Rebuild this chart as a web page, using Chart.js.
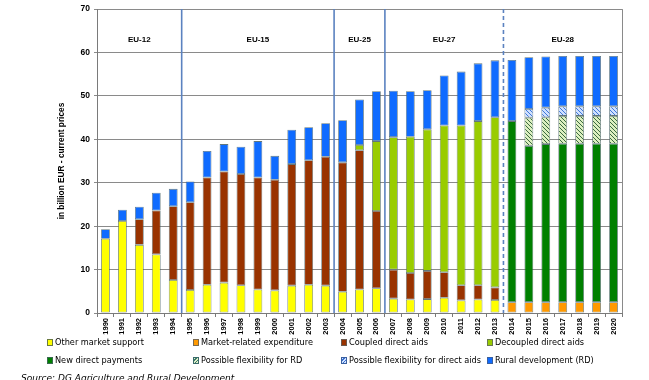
<!DOCTYPE html>
<html><head><meta charset="utf-8">
<script src="https://cdn.jsdelivr.net/npm/chart.js@4.4.1/dist/chart.umd.min.js"></script>
<style>
html,body{margin:0;padding:0;background:#fff;}
#wrap{position:relative;width:649px;height:380px;overflow:hidden;background:#fff;}
#c{position:absolute;left:0;top:0;}
.lg{position:absolute;font-family:"DejaVu Sans",Verdana,sans-serif;font-size:8.2px;color:#000;white-space:nowrap;line-height:10px;}
.lg i{display:inline-block;width:4px;height:5px;border:1px solid #555;margin-right:2px;vertical-align:-0.5px;}
.src{position:absolute;left:21px;top:372px;font-family:"DejaVu Sans",Verdana,sans-serif;font-style:italic;font-size:9px;line-height:12px;white-space:nowrap;color:#000;}
</style></head>
<body>
<div id="wrap">
<canvas id="c" width="649" height="380"></canvas>
<div class="lg" style="left:47px;top:337px"><i style="background:#ffff00;border-color:#6a7a40"></i>Other market support</div>
<div class="lg" style="left:193px;top:337px"><i style="background:#ff9900;border-color:#7a6a50"></i>Market-related expenditure</div>
<div class="lg" style="left:341px;top:337px"><i style="background:#993300;border-color:#6a5a50"></i>Coupled direct aids</div>
<div class="lg" style="left:487px;top:337px"><i style="background:#99cc00;border-color:#6a7a50"></i>Decoupled direct aids</div>
<div class="lg" style="left:47px;top:355px"><i style="background:#008000;border-color:#3a6a50"></i>New direct payments</div>
<div class="lg" style="left:193px;top:355px"><i style="background:repeating-linear-gradient(-45deg,#e0f0c8 0 1.5px,#3c7a6a 1.5px 2.5px);border-color:#3a6a6a"></i>Possible flexibility for RD</div>
<div class="lg" style="left:341px;top:355px"><i style="background:repeating-linear-gradient(-45deg,#d0e2ff 0 1.5px,#3a70d0 1.5px 2.5px);border-color:#3a60a0"></i>Possible flexibility for direct aids</div>
<div class="lg" style="left:487px;top:355px"><i style="background:#0f6bff;border-color:#3a60a0"></i>Rural development (RD)</div>
<div class="src">Source: DG Agriculture and Rural Development</div>
</div>
<script>
const years = ['1990','1991','1992','1993','1994','1995','1996','1997','1998','1999','2000','2001','2002','2003','2004','2005','2006','2007','2008','2009','2010','2011','2012','2013','2014','2015','2016','2017','2018','2019','2020'];
const otherMarketSupport = [17.1,21.2,15.7,13.5,7.6,5.3,6.5,7.0,6.4,5.4,5.2,6.3,6.5,6.3,4.9,5.4,5.7,3.3,3.1,3.2,3.5,2.9,3.1,3.0,null,null,null,null,null,null,null];
const marketRelatedExpenditure = [null,null,null,null,null,null,null,null,null,null,null,null,null,null,null,null,null,null,null,null,null,null,null,null,2.5,2.5,2.5,2.5,2.5,2.5,2.5];
const coupledDirectAids = [null,null,5.9,10.1,17.0,20.2,24.7,25.6,25.6,25.8,25.5,28.0,28.7,29.7,29.8,32.1,17.8,6.7,6.1,6.5,5.9,3.5,3.3,2.9,null,null,null,null,null,null,null];
const decoupledDirectAids = [null,null,null,null,null,null,null,null,null,null,null,null,null,null,null,1.2,16.1,30.5,31.4,32.6,33.8,36.8,37.8,39.2,null,null,null,null,null,null,null];
const newDirectPayments = [null,null,null,null,null,null,null,null,null,null,null,null,null,null,null,null,null,null,null,null,null,null,null,null,41.7,36.0,36.4,36.5,36.5,36.5,36.5];
const flexibilityForRD = [null,null,null,null,null,null,null,null,null,null,null,null,null,null,null,null,null,null,null,null,null,null,null,null,null,6.5,6.2,6.4,6.4,6.4,6.4];
const flexibilityForDirectAids = [null,null,null,null,null,null,null,null,null,null,null,null,null,null,null,null,null,null,null,null,null,null,null,null,null,2.0,2.2,2.2,2.2,2.2,2.2];
const ruralDevelopment = [2.2,2.6,2.9,4.1,4.0,4.8,6.1,6.3,6.3,8.4,5.5,7.9,7.6,7.7,9.7,10.5,11.5,10.7,10.5,9.0,11.5,12.4,13.3,13.1,14.1,11.9,11.8,11.6,11.6,11.6,11.6];
const regionLabels = ['EU-12','EU-15','EU-25','EU-27','EU-28'];
const regionFirstYear = ['1990','1995','2004','2007','2014'];
const yTicks = [0,10,20,30,40,50,60,70];

const ctx = document.getElementById('c').getContext('2d');
function hatch(bg, fg){
  const c = document.createElement('canvas'); c.width = 4; c.height = 4;
  const x = c.getContext('2d');
  x.fillStyle = bg; x.fillRect(0,0,4,4);
  x.strokeStyle = fg; x.lineWidth = 1;
  x.beginPath(); x.moveTo(-1,-1); x.lineTo(5,5); x.moveTo(3,-1); x.lineTo(5,1); x.moveTo(-1,3); x.lineTo(1,5); x.stroke();
  return ctx.createPattern(c,'repeat');
}
const border = 'rgba(70,95,100,0.85)';
function ds(label, data, color){
  return {label, data, backgroundColor: color, borderColor: border, borderWidth: 0.8, borderSkipped: false, stack: 's'};
}
const overlay = {
  id: 'overlay',
  afterDatasetsDraw(chart){
    const {ctx, chartArea: a, scales: {x, y}} = chart;
    ctx.save();
    ctx.strokeStyle = '#8a8a8a'; ctx.lineWidth = 1;
    ctx.beginPath(); ctx.moveTo(a.right+0.5, a.top); ctx.lineTo(a.right+0.5, a.bottom); ctx.stroke();
    const bounds = regionFirstYear.map(yr => { const i = years.indexOf(yr); return i === 0 ? a.left : (x.getPixelForValue(i-1) + x.getPixelForValue(i))/2; });
    bounds.push(a.right);
    ctx.strokeStyle = '#5b82c0'; ctx.lineWidth = 1.6;
    for (let k = 1; k < regionFirstYear.length; k++){
      ctx.setLineDash(k === regionFirstYear.length-1 ? [4,3] : []);
      ctx.beginPath(); ctx.moveTo(bounds[k], a.top); ctx.lineTo(bounds[k], a.bottom); ctx.stroke();
    }
    ctx.setLineDash([]);
    ctx.fillStyle = '#000'; ctx.font = 'bold 8px "Liberation Sans", Arial, sans-serif';
    ctx.textAlign = 'center'; ctx.textBaseline = 'middle';
    const ly = y.getPixelForValue(63);
    regionLabels.forEach((t,k) => ctx.fillText(t, (bounds[k]+bounds[k+1])/2, ly));
    ctx.restore();
  }
};
new Chart(ctx, {
  type: 'bar',
  data: {
    labels: years,
    datasets: [
      ds('Other market support', otherMarketSupport, '#ffff00'),
      ds('Market-related expenditure', marketRelatedExpenditure, '#ff9900'),
      ds('Coupled direct aids', coupledDirectAids, '#993300'),
      ds('Decoupled direct aids', decoupledDirectAids, '#99cc00'),
      ds('New direct payments', newDirectPayments, '#008000'),
      ds('Possible flexibility for RD', flexibilityForRD, hatch('#dcefc0', '#3a6a40')),
      ds('Possible flexibility for direct aids', flexibilityForDirectAids, hatch('#cfe0ff', '#3f78d8')),
      ds('Rural development (RD)', ruralDevelopment, '#0f6bff')
    ]
  },
  options: {
    responsive: false, animation: false, devicePixelRatio: 1,
    layout: {padding: {left: 0, right: 27, top: 7, bottom: 45}},
    plugins: {legend: {display: false}, tooltip: {enabled: false}},
    datasets: {bar: {categoryPercentage: 1, barPercentage: 0.52}},
    scales: {
      x: {
        stacked: true,
        afterFit(s){ s.height = 22; },
        grid: {display: true, drawOnChartArea: false, drawTicks: true, tickLength: 4, offset: true, color: '#7a7a7a'},
        border: {display: true, color: '#7a7a7a'},
        ticks: {minRotation: 90, maxRotation: 90, autoSkip: false, padding: 1, color: '#000', font: {family: '"Liberation Sans", Arial, sans-serif', size: 7.5, weight: 'bold'}}
      },
      y: {
        stacked: true, min: 0, max: 70,
        afterFit(s){ s.width = 97; },
        afterBuildTicks(s){ s.ticks = yTicks.map(v => ({value: v})); },
        grid: {color: '#8a8a8a', tickLength: 3},
        border: {display: true, color: '#7a7a7a'},
        ticks: {padding: 4, color: '#000', font: {family: '"Liberation Sans", Arial, sans-serif', size: 8.5, weight: 'bold'}},
        title: {display: true, text: 'in billion EUR - current prices', color: '#000', padding: {top: 57, bottom: 0}, font: {family: '"Liberation Sans", Arial, sans-serif', size: 8.3, weight: 'bold'}}
      }
    }
  },
  plugins: [overlay]
});
</script>
</body></html>
